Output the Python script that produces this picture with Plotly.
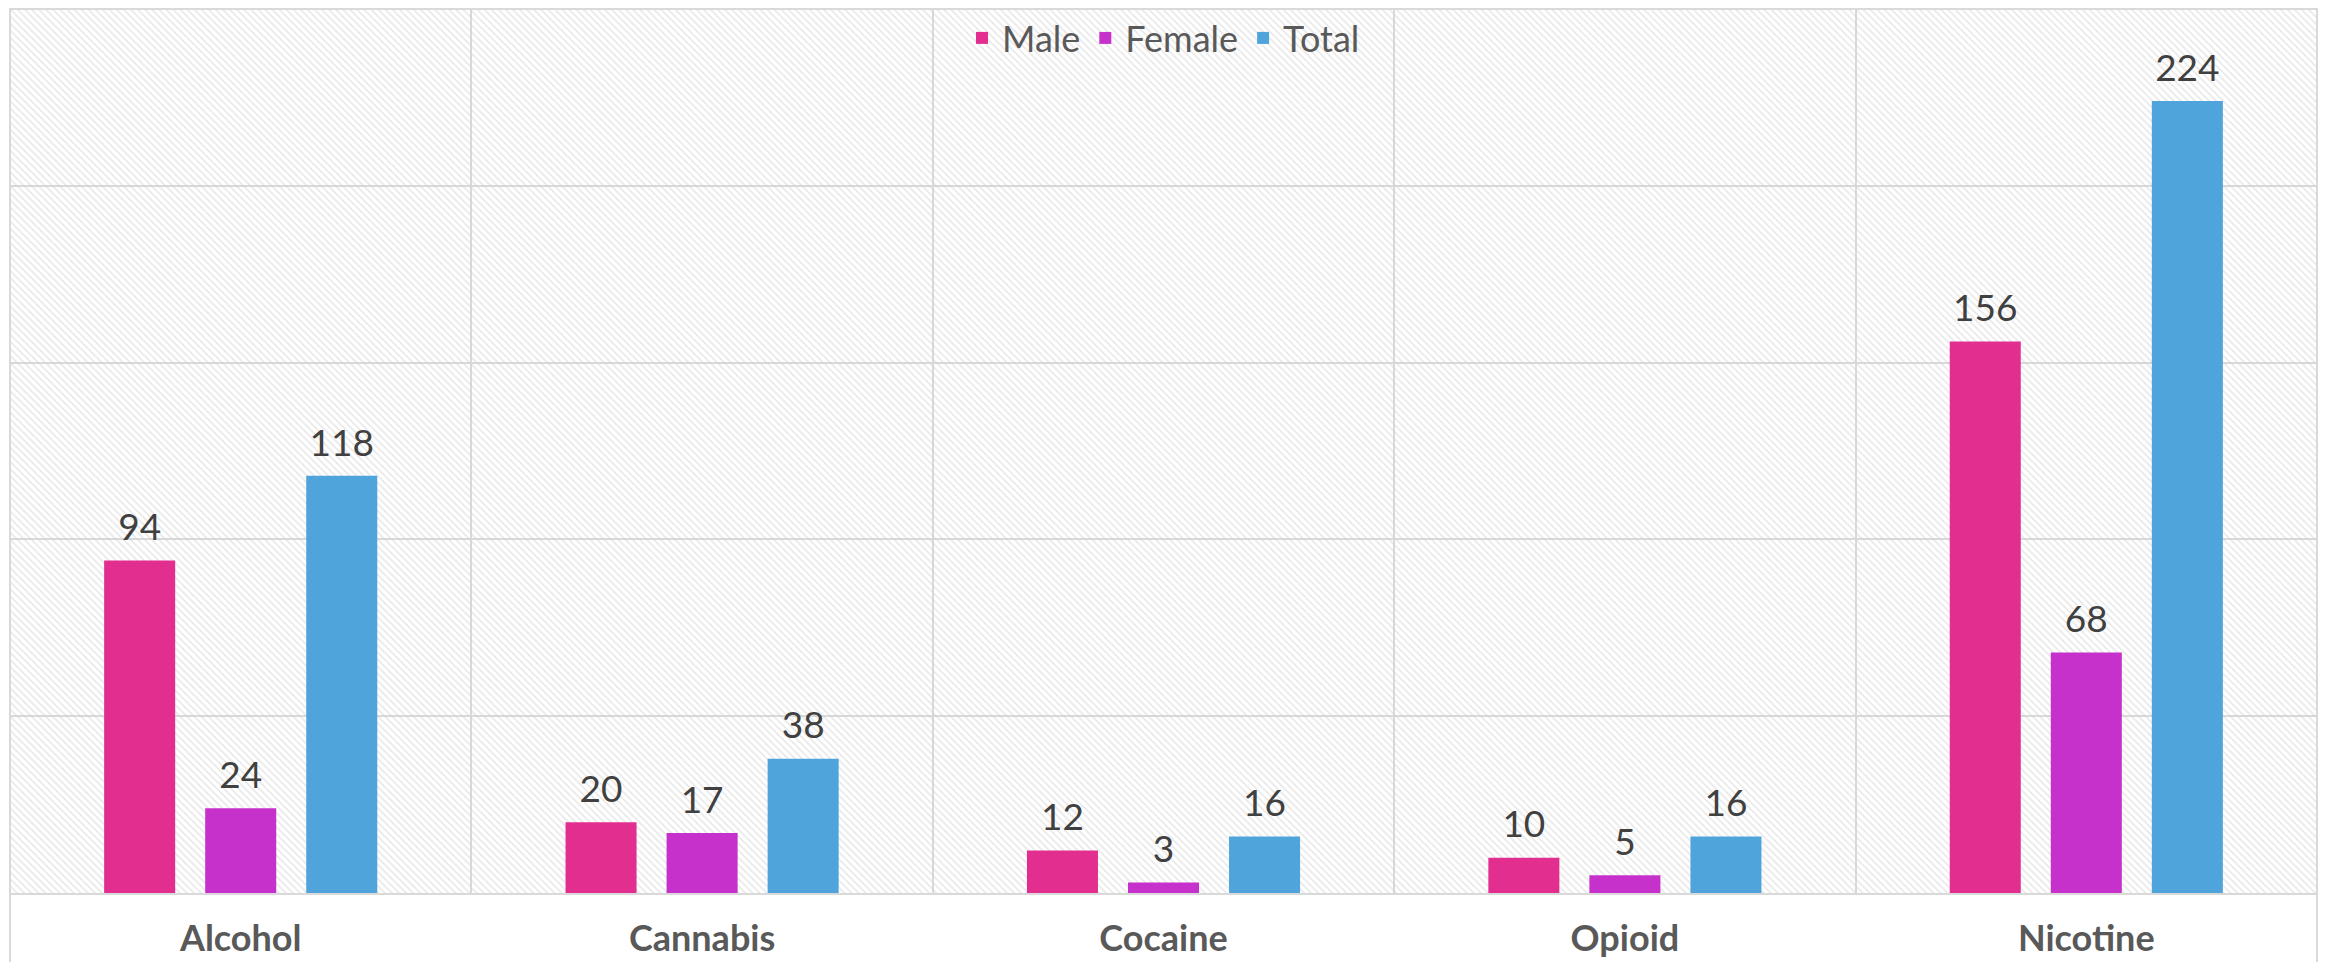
import plotly.graph_objects as go

# data
substances = ['Alcohol', 'Cannabis', 'Cocaine', 'Opioid', 'Nicotine']
male = [94, 20, 12, 10, 156]
female = [24, 17, 3, 5, 68]
total = [118, 38, 16, 16, 224]

Y_MAX = 250

series = [
    ('Male', male, '#E22E8E'),
    ('Female', female, '#C631CB'),
    ('Total', total, '#4FA5DB'),
]

fig = go.Figure()

# hatched plot background, one full-width bar per category on the base axis
fig.add_trace(go.Bar(
    x=substances, y=[Y_MAX] * len(substances), width=1,
    marker=dict(color='rgba(0,0,0,0)', line_width=0,
                pattern=dict(shape='\\', fgcolor='#cfcfcf',
                             bgcolor='rgba(0,0,0,0)', size=5, solidity=0.32)),
    showlegend=False, hoverinfo='skip'))

for i, (name, vals, col) in enumerate(series):
    fig.add_trace(go.Bar(
        x=substances, y=vals, name=name, xaxis='x2', offsetgroup=str(i),
        marker=dict(color=col, line_width=0)))
    # value labels, set a little above the bar tops
    fig.add_trace(go.Scatter(
        x=substances, y=vals, xaxis='x2', offsetgroup=str(i),
        mode='markers+text', text=vals, textposition='top center',
        marker=dict(size=16, opacity=0), cliponaxis=False,
        textfont=dict(size=37, color='#404040', family='Lato'),
        showlegend=False, hoverinfo='skip'))

fig.update_layout(
    width=2326, height=962,
    margin=dict(l=2, r=17, t=0, b=77),
    paper_bgcolor='white', plot_bgcolor='white',
    font=dict(family='Lato', color='#595959'),
    barmode='group', bargap=0.343, bargroupgap=0.297,
    scattermode='group', scattergap=0.343,
    xaxis=dict(type='category', categoryorder='array', categoryarray=substances,
               range=[-0.5, len(substances) - 0.5],
               tickson='boundaries', showgrid=True, gridcolor='#d9d9d9', gridwidth=1.5,
               ticks='', showline=True, linecolor='#d9d9d9', linewidth=2,
               ticklabelstandoff=13,
               tickfont=dict(size=36, color='#595959', family='Lato', weight='bold')),
    xaxis2=dict(type='category', categoryorder='array', categoryarray=substances,
                range=[-0.5, len(substances) - 0.5],
                overlaying='x', visible=False),
    yaxis=dict(range=[0, Y_MAX], dtick=50, showgrid=True, gridcolor='#d9d9d9',
               gridwidth=1.5, showticklabels=False, zeroline=False, ticks=''),
    legend=dict(orientation='h', x=0.5, xanchor='center', y=0.967, yanchor='middle',
                bgcolor='rgba(0,0,0,0)', font=dict(size=36, color='#595959'),
                itemsizing='constant'),
    shapes=[dict(type='rect', xref='paper', yref='paper', x0=0, x1=1, y0=-0.2, y1=1,
                 line=dict(color='#d9d9d9', width=2), layer='above')],
)

fig.write_html("out.html")
